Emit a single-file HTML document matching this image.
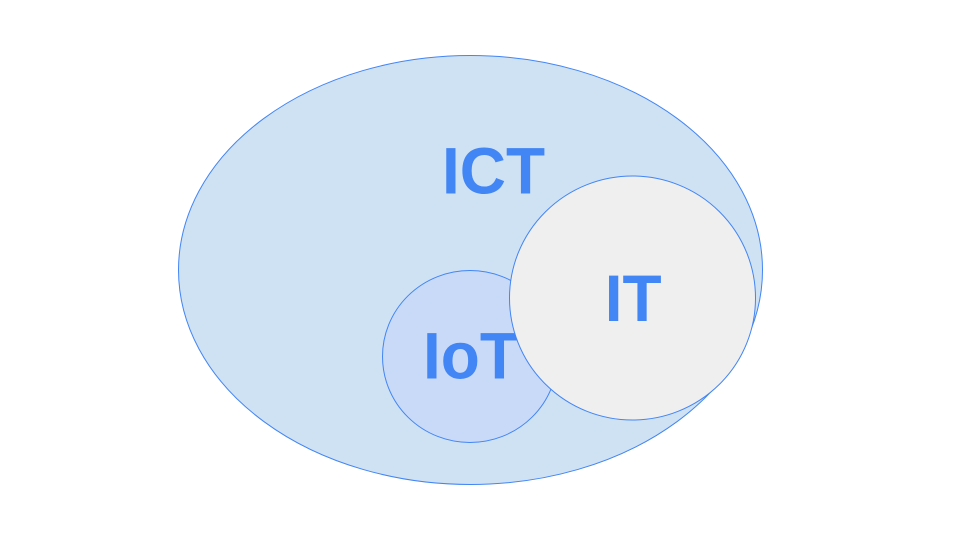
<!DOCTYPE html>
<html>
<head>
<meta charset="utf-8">
<style>
html,body{margin:0;padding:0;background:#fff;width:960px;height:540px;overflow:hidden}
svg{display:block}
text{font-family:"Liberation Sans",Arial,sans-serif;font-weight:700;fill:#4285f4;font-size:64px}
</style>
</head>
<body>
<svg width="960" height="540" viewBox="0 0 960 540" xmlns="http://www.w3.org/2000/svg">
<rect width="960" height="540" fill="#fff"/>
<ellipse cx="470.5" cy="270" rx="292" ry="214.5" fill="#cfe2f3" stroke="#4285f4" stroke-width="1"/>
<text transform="translate(442 193.7) scale(1 1.035)">ICT</text>
<ellipse cx="470" cy="356.5" rx="87.5" ry="86" fill="#c9daf8" stroke="#4285f4" stroke-width="1"/>
<text transform="translate(423 378.5) scale(1 1.035)">IoT</text>
<ellipse cx="632.5" cy="298" rx="123" ry="122" fill="#efefef" stroke="#4285f4" stroke-width="1"/>
<text transform="translate(604.7 320.8) scale(1 1.035)">IT</text>
</svg>
</body>
</html>
